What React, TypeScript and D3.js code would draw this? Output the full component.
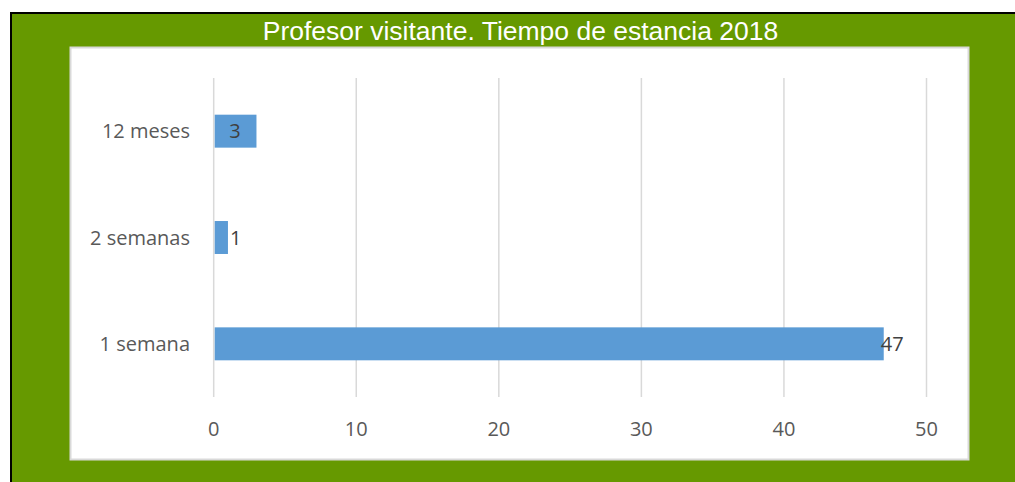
import React from "react";
import * as d3 from "d3";

const title = "Profesor visitante. Tiempo de estancia 2018";
const categories = ["12 meses", "2 semanas", "1 semana"];
const values = [3, 1, 47];
const xTicks = [0, 10, 20, 30, 40, 50];

const W = 1015;
const H = 482;

export default function App() {
  const x = d3.scaleLinear().domain([0, 50]).range([213.7, 926.5]);
  const y = d3.scaleBand<string>().domain(categories).range([78, 397]).paddingInner(0.69).paddingOuter(0.345);
  const font = "'Open Sans', sans-serif";
  const fs = 20;
  return (
    <svg width={W} height={H} style={{ position: "absolute", left: 0, top: 0 }}>
      <rect x={0} y={0} width={W} height={H} fill="#ffffff" />
      <rect x={10} y={12} width={W - 10} height={H - 12} fill="#000000" />
      <rect x={12} y={14} width={W - 12} height={H - 14} fill="#669900" />
      <rect x={70.5} y={47.5} width={898} height={412} fill="#ffffff" stroke="#d9d9d9" strokeWidth={2} />
      <text x={520.5} y={39.5} textAnchor="middle" fill="#ffffff" fontFamily="'Liberation Sans', Arial, sans-serif" fontSize={26.5}>
        {title}
      </text>
      {xTicks.map((t) => (
        <g key={t}>
          <line x1={x(t)} x2={x(t)} y1={78} y2={397} stroke="#d9d9d9" strokeWidth={1.5} />
          <text x={x(t)} y={436} textAnchor="middle" fill="#595959" fontFamily={font} fontSize={fs}>
            {t}
          </text>
        </g>
      ))}
      {categories.map((c, i) => {
        const v = values[i];
        const by = y(c)!;
        const bh = y.bandwidth();
        const x0 = x(0);
        const x1 = x(v);
        const inside = x1 - x0 > 30;
        const lx = inside && v < 10 ? (x0 + x1) / 2 : x1 + (inside ? -3 : 2);
        return (
          <g key={c}>
            <text x={190} y={by + bh / 2 + 7} textAnchor="end" fill="#595959" fontFamily={font} fontSize={fs}>
              {c}
            </text>
            <rect x={x0 + 1} y={by} width={x1 - x0 - 1} height={bh} fill="#5b9bd5" />
            <text
              x={lx}
              y={by + bh / 2 + 7}
              textAnchor={inside && v < 10 ? "middle" : "start"}
              fill="#404040"
              fontFamily={font}
              fontSize={fs}
            >
              {v}
            </text>
          </g>
        );
      })}
    </svg>
  );
}
